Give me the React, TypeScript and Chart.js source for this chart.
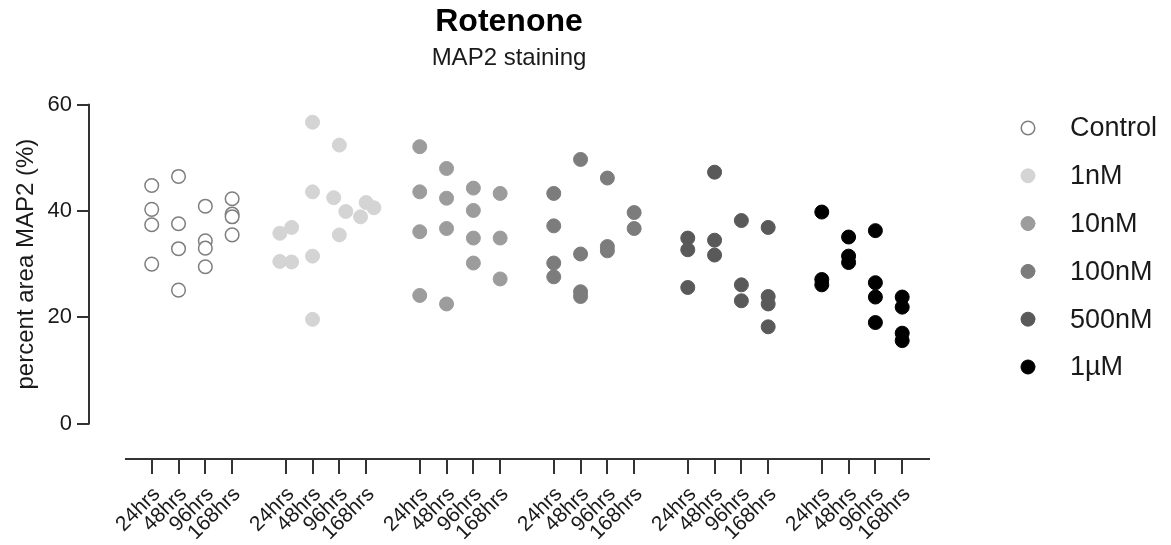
import React, { useEffect, useRef } from "react";
import { Chart, registerables } from "chart.js";

Chart.register(...registerables);

// ---------- data ----------
const doseLabels = ["Control", "1nM", "10nM", "100nM", "500nM", "1µM"];
const timeLabels = ["24hrs", "48hrs", "96hrs", "168hrs"];
const yTickValues = [0, 20, 40, 60];

// percent area MAP2 (%), one list per time point (24, 48, 96, 168 hrs)
const controlValues = [
  [44.8, 40.3, 37.4, 30.0],
  [46.5, 37.6, 32.9, 25.1],
  [40.9, 34.4, 33.0, 29.5],
  [42.3, 39.4, 38.9, 35.5],
];
const nM1Values = [
  [36.9, 35.8, 30.5, 30.4],
  [56.7, 43.6, 31.5, 19.6],
  [52.4, 42.5, 39.9, 35.5],
  [41.6, 40.6, 38.9],
];
// horizontal spread of overlapping 1nM dots (in category slots)
const nM1Jitter = [
  [0.22, -0.22, -0.22, 0.22],
  [0, 0, 0, 0],
  [0, -0.21, 0.24, 0],
  [0, 0.29, -0.21],
];
const nM10Values = [
  [52.1, 43.6, 36.1, 24.1],
  [48.0, 42.4, 36.7, 22.5],
  [44.3, 40.1, 34.9, 30.2],
  [43.3, 34.9, 27.2],
];
const nM100Values = [
  [43.3, 37.2, 30.2, 27.6],
  [49.7, 31.9, 24.8, 23.9],
  [46.2, 33.3, 32.5],
  [39.7, 36.7],
];
const nM500Values = [
  [34.9, 32.7, 25.6],
  [47.3, 34.5, 31.7],
  [38.2, 26.1, 23.1],
  [36.9, 23.9, 22.5, 18.2],
];
const uM1Values = [
  [39.8, 27.1, 26.1],
  [35.1, 31.5, 30.3],
  [36.3, 26.5, 23.8, 19.0],
  [23.8, 21.9, 17.0, 15.6],
];

const doseValues = [controlValues, nM1Values, nM10Values, nM100Values, nM500Values, uM1Values];
const doseJitter: (number[][] | null)[] = [null, nM1Jitter, null, null, null, null];

// ---------- styles ----------
const FONT = '"Liberation Sans", Arial, Helvetica, sans-serif';
const AXIS_COLOR = "#333333";
const TEXT_COLOR = "#1a1a1a";
const fillColors = ["#ffffff", "#d4d4d4", "#9c9c9c", "#7c7c7c", "#595959", "#000000"];
const borderColors = ["#7e7e7e", "#d4d4d4", "#9c9c9c", "#7c7c7c", "#595959", "#000000"];
const borderWidths = [1.5, 1, 1, 1, 1, 1];
const radii = [6.8, 7, 7, 7, 7, 7];

const SLOTS_PER_GROUP = 5; // 4 time points + 1 gap
const X_MIN = -2.34;
const X_MAX = 29.0;
const X_AXIS_FROM = -0.96;
const Y_MIN = -6.68;
const Y_MAX = 60;

const xTickPositions: number[] = [];
doseLabels.forEach((_, d) =>
  timeLabels.forEach((_, t) => xTickPositions.push(d * SLOTS_PER_GROUP + t))
);

const prismPlugin = {
  id: "prismAxesLegend",
  afterDraw(chart: any) {
    const { ctx, chartArea, scales } = chart;
    const xs = scales.x;
    const ys = scales.y;
    ctx.save();
    ctx.strokeStyle = AXIS_COLOR;
    ctx.lineWidth = 2;
    ctx.lineCap = "square";
    // y axis line
    ctx.beginPath();
    ctx.moveTo(chartArea.left, ys.getPixelForValue(0));
    ctx.lineTo(chartArea.left, ys.getPixelForValue(Y_MAX));
    ctx.stroke();
    // x axis line (detached)
    ctx.beginPath();
    ctx.moveTo(xs.getPixelForValue(X_AXIS_FROM), chartArea.bottom);
    ctx.lineTo(xs.getPixelForValue(X_MAX), chartArea.bottom);
    ctx.stroke();

    // y axis title centred on the 0..60 span
    const yMid = (ys.getPixelForValue(0) + ys.getPixelForValue(Y_MAX)) / 2;
    ctx.save();
    ctx.translate(chartArea.left - 56, yMid);
    ctx.rotate(-Math.PI / 2);
    ctx.font = `24px ${FONT}`;
    ctx.fillStyle = TEXT_COLOR;
    ctx.textAlign = "center";
    ctx.textBaseline = "alphabetic";
    ctx.fillText("percent area MAP2 (%)", 0, 0);
    ctx.restore();

    // legend
    const lx = chartArea.right + 99;
    const tx = chartArea.right + 141;
    let ly = chartArea.top + 23.3;
    ctx.font = `27px ${FONT}`;
    ctx.textAlign = "left";
    ctx.textBaseline = "middle";
    chart.data.datasets.forEach((ds: any) => {
      ctx.beginPath();
      ctx.arc(lx, ly, ds.pointRadius, 0, Math.PI * 2);
      ctx.fillStyle = ds.pointBackgroundColor;
      ctx.fill();
      ctx.lineWidth = ds.pointBorderWidth;
      ctx.strokeStyle = ds.pointBorderColor;
      ctx.stroke();
      ctx.fillStyle = TEXT_COLOR;
      ctx.fillText(ds.label, tx, ly + 1);
      ly += 47.8;
    });
    ctx.restore();
  },
};

export default function App() {
  const canvasRef = useRef<HTMLCanvasElement | null>(null);

  useEffect(() => {
    if (!canvasRef.current) return;
    const datasets = doseLabels.map((label, d) => {
      const pts: { x: number; y: number }[] = [];
      doseValues[d].forEach((vals, t) => {
        vals.forEach((v, i) => {
          const j = doseJitter[d] ? doseJitter[d]![t][i] : 0;
          pts.push({ x: d * SLOTS_PER_GROUP + t + j, y: v });
        });
      });
      return {
        label,
        data: pts,
        pointRadius: radii[d],
        pointBackgroundColor: fillColors[d],
        pointBorderColor: borderColors[d],
        pointBorderWidth: borderWidths[d],
        showLine: false,
      };
    });

    const chart = new Chart(canvasRef.current, {
      type: "scatter",
      data: { datasets },
      plugins: [prismPlugin],
      options: {
        animation: false,
        responsive: false,
        events: [],
        layout: { padding: { left: 0, right: 242, top: 0, bottom: 0 } },
        plugins: {
          legend: { display: false },
          tooltip: { enabled: false },
          title: {
            display: true,
            text: "Rotenone",
            fullSize: false,
            color: "#000",
            font: { family: FONT, size: 32, weight: "bold", lineHeight: 1.2 },
            padding: { top: 3, bottom: 0 },
          },
          subtitle: {
            display: true,
            text: "MAP2 staining",
            fullSize: false,
            color: TEXT_COLOR,
            font: { family: FONT, size: 24, lineHeight: 1.2 },
            padding: { top: 3, bottom: 31.5 },
          },
        },
        scales: {
          x: {
            type: "linear",
            min: X_MIN,
            max: X_MAX,
            afterBuildTicks: (s: any) => {
              s.ticks = xTickPositions.map((v) => ({ value: v }));
            },
            afterFit: (s: any) => {
              s.height = 86;
            },
            border: { display: false },
            grid: {
              drawOnChartArea: false,
              drawTicks: true,
              tickLength: 15,
              tickWidth: 2,
              tickColor: AXIS_COLOR,
              color: AXIS_COLOR,
              lineWidth: 2,
            },
            ticks: {
              autoSkip: false,
              minRotation: 45,
              maxRotation: 45,
              padding: 8,
              labelOffset: 5,
              color: TEXT_COLOR,
              font: { family: FONT, size: 21 },
              callback: (v: any) => timeLabels[Math.round(Number(v)) % SLOTS_PER_GROUP] ?? "",
            },
          },
          y: {
            type: "linear",
            min: Y_MIN,
            max: Y_MAX,
            afterBuildTicks: (s: any) => {
              s.ticks = yTickValues.map((v) => ({ value: v }));
            },
            afterFit: (s: any) => {
              s.width = 89;
            },
            border: { display: false },
            grid: {
              drawOnChartArea: false,
              drawTicks: true,
              tickLength: 12,
              tickWidth: 2,
              tickColor: AXIS_COLOR,
              color: AXIS_COLOR,
              lineWidth: 2,
            },
            ticks: {
              padding: 5,
              color: TEXT_COLOR,
              font: { family: FONT, size: 22 },
            },
          },
        },
      } as any,
    });
    return () => chart.destroy();
  }, []);

  return (
    <div style={{ width: 1171, height: 545 }}>
      <style>{`body{margin:0}`}</style>
      <canvas ref={canvasRef} width={1171} height={545} style={{ display: "block" }} />
    </div>
  );
}
